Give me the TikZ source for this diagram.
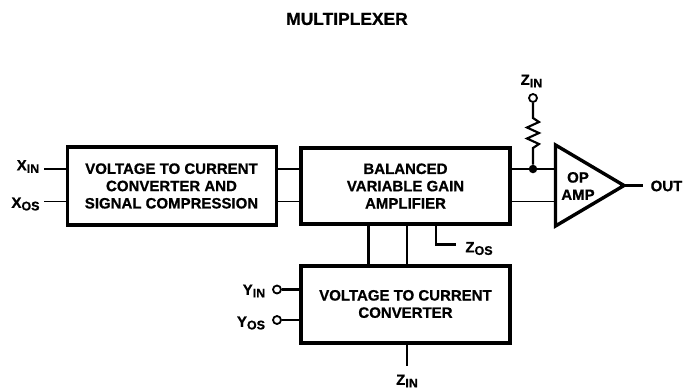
\documentclass[tikz,border=0pt]{standalone}
\usepackage{fontspec}
\setmainfont[BoldFeatures={FakeBold=0.8}]{Liberation Sans}
\begin{document}
\begin{tikzpicture}[x=1pt,y=-1pt,
  box/.style={draw,line width=3.2pt,minimum width=0pt},
  wire/.style={line width=2.1pt},
  thin wire/.style={line width=1.3pt},
  lbl/.style={font=\bfseries\fontsize{15}{17.3}\selectfont,align=center,inner sep=0pt},
  pin/.style={font=\bfseries\fontsize{15}{16}\selectfont,inner sep=0pt},
  term/.style={circle,draw,fill=white,line width=1.8pt,minimum size=8pt,inner sep=0pt},
  dotn/.style={circle,fill=black,minimum size=8.5pt,inner sep=0pt}]
\newcommand{\sbs}[2]{#1\raisebox{-0.32ex}{\fontsize{12.5}{13}\selectfont #2}}
\useasboundingbox (0,0) rectangle (689,389);
\node[font=\bfseries\fontsize{17.4}{20}\selectfont,inner sep=0pt] (title) at (347,19) {MULTIPLEXER};
% boxes
\node[box,minimum width=209pt,minimum height=78pt] (b1) at (172,186) {};
\node[lbl] (b1t) at (171.5,186) {VOLTAGE TO CURRENT\\CONVERTER AND\\SIGNAL COMPRESSION};
\node[box,minimum width=209pt,minimum height=76pt] (b2) at (405.5,186) {};
\node[lbl] (b2t) at (405.5,186) {BALANCED\\VARIABLE GAIN\\AMPLIFIER};
\node[box,minimum width=209pt,minimum height=77pt] (b3) at (405.5,304.5) {};
\node[lbl] (b3t) at (405.5,304) {VOLTAGE TO CURRENT\\CONVERTER};
% op amp
\coordinate (ta) at (555.5,145);
\coordinate (tb) at (555.5,226);
\coordinate (tc) at (624,185.5);
\draw[line width=3.4pt,line join=miter] (ta) -- (tc) -- (tb) -- cycle;
\node[lbl] (amp) at (578,186) {OP\\AMP};
% inputs
\coordinate (xin) at (44,169);
\coordinate (xos) at (44,201.5);
\node[pin] (xint) at (28,166.5) {\sbs{X}{IN}};
\node[pin] (xost) at (25.5,204) {\sbs{X}{OS}};
\draw[wire] (xin) -- (xin -| b1.west);
\draw[thin wire] (xos) -- (xos -| b1.west);
\draw[wire] (b1.east |- xin) -- (b2.west |- xin);
\draw[thin wire] (b1.east |- xos) -- (b2.west |- xos);
% to op amp
\coordinate (j0) at (533,169);
\node[dotn] (j) at (j0) {};
\draw[wire] (b2.east |- j0) -- (j) -- (ta |- j0);
\draw[thin wire] (b2.east |- xos) -- (ta |- xos);
\coordinate (oe) at (643,185.5);
\draw[wire] (tc) -- (oe);
\node[pin] (out) at (666.5,186) {OUT};
% resistor
\node[term] (zt) at (533,98) {};
\node[pin] (ztt) at (531.5,81) {\sbs{Z}{IN}};
\draw[wire,line join=miter] (zt) -- (533,118) -- (539,122) -- (527,127.5) -- (539,133) -- (527,138.5) -- (539,144) -- (533,148) -- (j);
% vertical links
\draw[wire] (368.5,225) -- (368.5,265);
\draw[wire] (407,225) -- (407,265);
\coordinate (zos) at (456,244.5);
\draw[wire] (436,225) -- (zos -| 436,0) -- (zos);
\node[pin] (zost) at (479,248.5) {\sbs{Z}{OS}};
% Y
\node[term] (yi) at (277,289.5) {};
\node[term] (yo) at (277,320) {};
\draw[wire] (yi) -- (yi -| b3.west);
\draw[wire] (yo) -- (yo -| b3.west);
\node[pin] (yit) at (254,291) {\sbs{Y}{IN}};
\node[pin] (yot) at (251,323) {\sbs{Y}{OS}};
% bottom
\coordinate (zb) at (407,365.5);
\draw[wire] (zb |- b3.south) -- (zb);
\node[pin] (zbt) at (407,381) {\sbs{Z}{IN}};
\end{tikzpicture}
\end{document}
